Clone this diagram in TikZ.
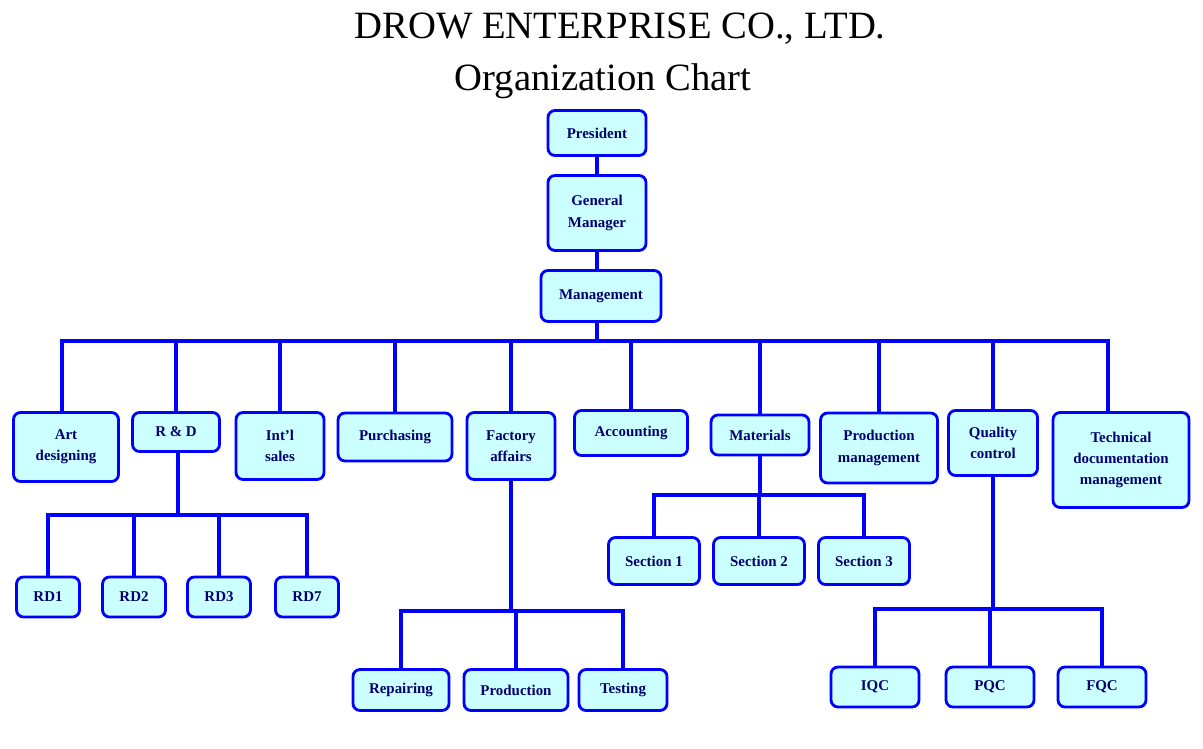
\documentclass[tikz,border=0pt]{standalone}
\usepackage{fontspec}
\setmainfont{Liberation Serif}
\definecolor{boxfill}{RGB}{204,255,255}
\definecolor{navy}{RGB}{0,0,110}
\tikzset{
  unit/.style={draw=blue, fill=boxfill, line width=1.6pt, rounded corners=4pt,
    font=\fontsize{8.5}{12}\selectfont\bfseries, text=navy, align=center, inner sep=0pt},
  link/.style={draw=blue, line width=2pt}
}
\begin{document}
\begin{tikzpicture}[x=0.02cm, y=-0.02cm]
  \useasboundingbox (0,0) rectangle (1203,749);
  % title
  \node (title) at (620,29) {\fontsize{22}{26}\selectfont DROW ENTERPRISE CO., LTD.};
  \node (subtitle) at (603,81) {\fontsize{22}{26}\selectfont Organization Chart};

  % top chain
  \node[unit, minimum width=1.96cm, minimum height=0.9cm] (pres) at (597,133) {President};
  \node[unit, minimum width=1.96cm, minimum height=1.5cm] (gm) at (597,213) {General\\Manager};
  \node[unit, minimum width=2.4cm, minimum height=1.02cm] (mgmt) at (601,296) {Management};

  % departments
  \node[unit, minimum width=2.1cm, minimum height=1.38cm] (art) at (66,447) {Art\\designing};
  \node[unit, minimum width=1.74cm, minimum height=0.78cm] (rd) at (176,432) {R \& D};
  \node[unit, minimum width=1.76cm, minimum height=1.34cm] (intl) at (280,446) {Int'l\\sales};
  \node[unit, minimum width=2.28cm, minimum height=0.96cm] (purch) at (395,437) {Purchasing};
  \node[unit, minimum width=1.76cm, minimum height=1.34cm] (fact) at (511,446) {Factory\\affairs};
  \node[unit, minimum width=2.26cm, minimum height=0.9cm] (acct) at (631,433) {Accounting};
  \node[unit, minimum width=1.96cm, minimum height=0.8cm] (mat) at (760,435) {Materials};
  \node[unit, minimum width=2.34cm, minimum height=1.4cm] (prodm) at (879,448) {Production\\management};
  \node[unit, minimum width=1.78cm, minimum height=1.3cm] (qc) at (993,443) {Quality\\control};
  \node[unit, minimum width=2.72cm, minimum height=1.9cm] (tech) at (1121,460) {Technical\\documentation\\management};

  % R&D groups
  \foreach \n/\x in {1/48, 2/134, 3/219, 7/307}
    \node[unit, minimum width=1.26cm, minimum height=0.8cm] (rd\n) at (\x,597) {RD\n};

  % sections
  \foreach \n/\x in {1/654, 2/759, 3/864}
    \node[unit, minimum width=1.82cm, minimum height=0.94cm] (sec\n) at (\x,561) {Section \n};

  % factory units
  \node[unit, minimum width=1.92cm, minimum height=0.82cm] (rep) at (401,690) {Repairing};
  \node[unit, minimum width=2.08cm, minimum height=0.82cm] (prod) at (516,690) {Production};
  \node[unit, minimum width=1.76cm, minimum height=0.82cm] (test) at (623,690) {Testing};

  % QC units
  \foreach \q/\x in {IQC/875, PQC/990, FQC/1102}
    \node[unit, minimum width=1.76cm, minimum height=0.8cm] (\q) at (\x,687) {\q};

  % connectors
  \draw[link] (pres) -- (gm);
  \draw[link] (gm.south) -- (gm.south |- mgmt.north);
  \coordinate (bus) at (597,341);
  \draw[link] (mgmt.south -| bus) -- (bus);
  \foreach \d in {rd, intl, purch, fact, acct, mat, prodm, qc}
    \draw[link] (\d.north) |- (bus);
  \coordinate (artdrop) at (62,413);
  \coordinate (techdrop) at (1108,413);
  \draw[link] (artdrop) |- (bus);
  \draw[link] (techdrop) |- (bus);

  \coordinate (rdbus) at (178,515);
  \draw[link] (rd.south -| rdbus) -- (rdbus);
  \foreach \n in {1,2,3,7}
    \draw[link] (rd\n.north) |- (rdbus);

  \coordinate (matbus) at (760,495);
  \draw[link] (mat) -- (matbus);
  \foreach \n in {1,2,3}
    \draw[link] (sec\n.north) |- (matbus);

  \coordinate (factbus) at (511,611);
  \draw[link] (fact) -- (factbus);
  \foreach \d in {rep, prod, test}
    \draw[link] (\d.north) |- (factbus);

  \coordinate (qcbus) at (993,609);
  \draw[link] (qc) -- (qcbus);
  \foreach \d in {IQC, PQC, FQC}
    \draw[link] (\d.north) |- (qcbus);
\end{tikzpicture}
\end{document}
